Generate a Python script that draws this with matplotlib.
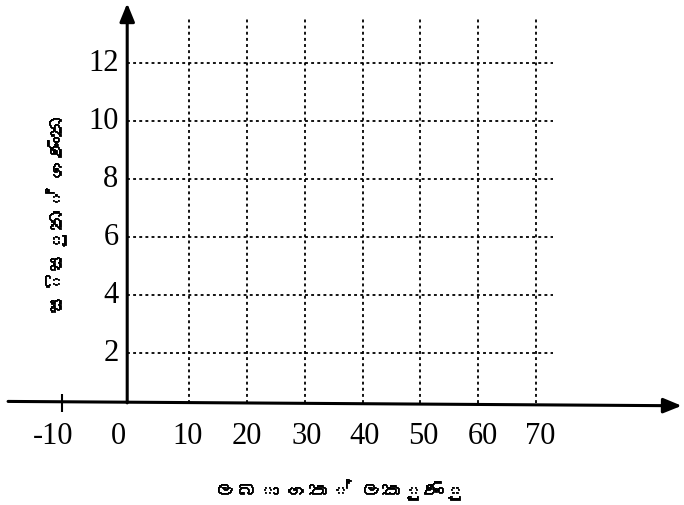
import matplotlib
matplotlib.use("Agg")
import matplotlib.pyplot as plt
import matplotlib.patheffects as pe
from matplotlib import font_manager
from matplotlib.ft2font import FT2Font

x_ticks = [10, 20, 30, 40, 50, 60, 70]
y_ticks = [2, 4, 6, 8, 10, 12]
x_labels = ["-10", "0", "10", "20", "30", "40", "50", "60", "70"]
# label centres as drawn in the scan (slightly off the grid)
x_label_pos = [-13.5, -2.2, 9.7, 20, 30.3, 40.4, 50.5, 60.8, 70.8]
x_title = "ලබා ගත් ලකුණු"
y_title = "සිසුන් ගණන"

axis_x = -0.7   # where the vertical axis sits
axis_y = 0.28   # where the horizontal axis sits
grid_top = 13.5
grid_right = 73.0


def sinhala_font():
    # look for any installed font that has sinhala glyphs
    for path in font_manager.findSystemFonts():
        try:
            cmap = FT2Font(path).get_charmap()
        except Exception:
            continue
        if 0x0DBD in cmap and 0x0DC3 in cmap:
            return font_manager.FontProperties(fname=path).get_name()
    return None


sfont = sinhala_font()
fam = [sfont, "DejaVu Sans"] if sfont else ["DejaVu Sans"]
heavy = [pe.withStroke(linewidth=0.6, foreground="black")]

fig = plt.figure(figsize=(6.84, 5.06), dpi=100)
ax = fig.add_axes([0, 0, 1, 1])
ax.set_xlim(-22.7, 95.6)
ax.set_ylim(-3.24, 14.2)
ax.axis("off")

# dotted grid
dots = (0, (1.6, 1.8))
ax.vlines(x_ticks, axis_y, grid_top, colors="black", linestyles=dots, lw=1.3)
ax.hlines(y_ticks, axis_x, grid_right, colors="black", linestyles=dots, lw=1.3)

# axes with arrows
head = "-|>,head_length=1.1,head_width=0.45"
ax.annotate("", xy=(95.2, axis_y - 0.1), xytext=(-21.3, axis_y + 0.05),
            arrowprops=dict(arrowstyle=head, color="black", lw=2.2, shrinkA=0, shrinkB=0))
ax.annotate("", xy=(axis_x, 14.05), xytext=(axis_x, axis_y),
            arrowprops=dict(arrowstyle=head, color="black", lw=2.2, shrinkA=0, shrinkB=0))
ax.vlines(-12.0, axis_y - 0.3, axis_y + 0.3, colors="black", lw=1.5)

for v, s in zip(x_label_pos, x_labels):
    ax.text(v, -0.85, s, ha="center", va="center", fontsize=22, family="Liberation Serif")
for v in y_ticks:
    ax.text(-2.2, v, str(v), ha="right", va="center", fontsize=22, family="Liberation Serif")

ax.text(36.2, -2.7, x_title, ha="center", va="center", fontsize=15, fontweight="bold",
        family=fam, path_effects=heavy)
ax.text(-13.1, 6.8, y_title, ha="center", va="center", rotation=90, fontsize=15,
        fontweight="bold", family=fam, path_effects=heavy)

fig.savefig("out.png", dpi=100)
